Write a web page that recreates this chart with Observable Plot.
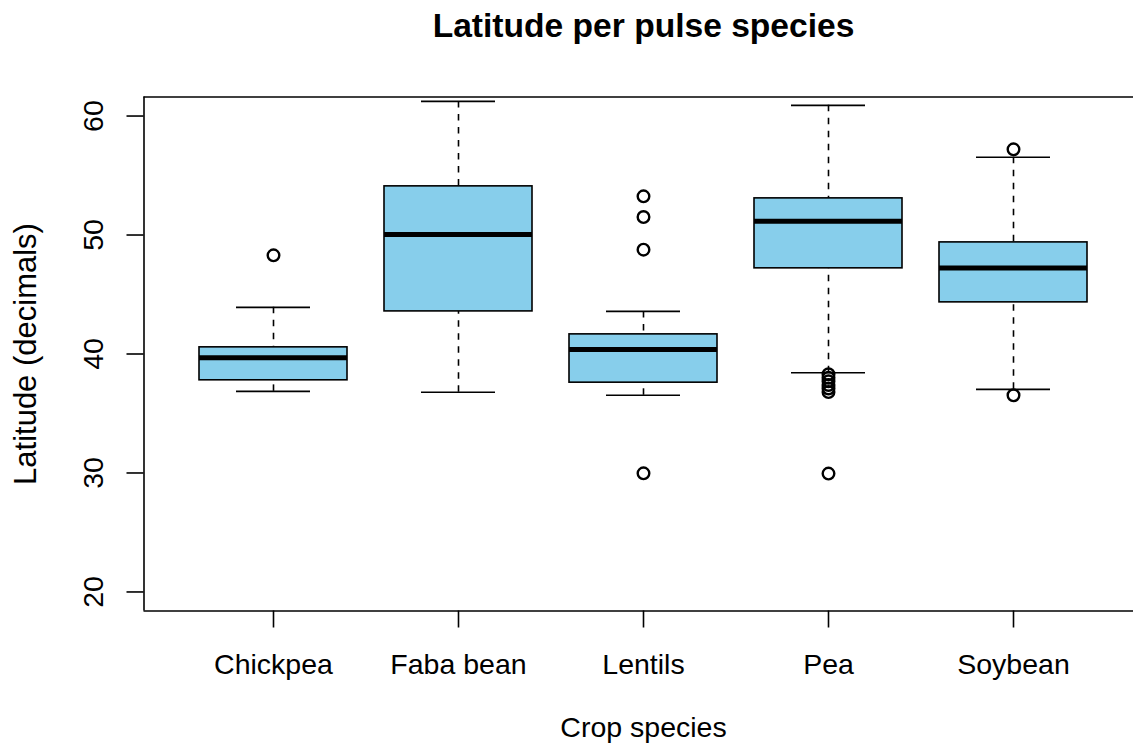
<!DOCTYPE html>
<html>
<head>
<meta charset="utf-8">
<script src="https://cdn.jsdelivr.net/npm/d3@7"></script>
<script src="https://cdn.jsdelivr.net/npm/@observablehq/plot@0.6"></script>
<style>
  html, body { margin: 0; padding: 0; background: #fff; overflow: hidden; }
  svg { display: block; }
</style>
</head>
<body>
<div id="chart"></div>
<script>
// ---- data ----
const categories = ["Chickpea", "Faba bean", "Lentils", "Pea", "Soybean"];
const lowerWhisker = [36.86, 36.78, 36.53, 38.43, 37.03];
const q1 = [37.79, 43.58, 37.59, 47.20, 44.34];
const median = [39.69, 50.05, 40.37, 51.15, 47.22];
const q3 = [40.56, 54.09, 41.65, 53.08, 49.38];
const upperWhisker = [43.92, 61.23, 43.58, 60.90, 56.53];
const outlierSpecies = ["Chickpea", "Lentils", "Lentils", "Lentils", "Lentils",
  "Pea", "Pea", "Pea", "Pea", "Pea", "Pea", "Pea", "Soybean", "Soybean"];
const outlierLatitude = [48.29, 53.25, 51.51, 48.77, 29.97,
  38.30, 38.00, 37.70, 37.40, 37.10, 36.80, 29.95, 57.20, 36.53];
const yTicks = [20, 30, 40, 50, 60];
const yLimits = [20, 60];

// ---- tables ----
const boxes = categories.map((c, i) => ({
  species: c, pos: i + 1,
  lo: lowerWhisker[i], q1: q1[i], med: median[i], q3: q3[i], hi: upperWhisker[i]
}));
const outliers = outlierSpecies.map((s, i) => ({
  pos: categories.indexOf(s) + 1, lat: outlierLatitude[i]
}));

// R-style axis extension (4%)
const ySpan = yLimits[1] - yLimits[0];
const yDomain = [yLimits[0] - 0.04 * ySpan, yLimits[1] + 0.04 * ySpan];
const n = categories.length;
const xSpan = n;
const xLo = 0.5 - 0.04 * xSpan;
const W = 1133, H = 751;
const mLeft = 143.5, mTop = 96.5, mBottom = 140.5;
const unitPx = 185; // pixels per category step
const xHi = xLo + (W - mLeft) / unitPx; // right side of the box lies outside the image
const xCenter = (xLo + (0.5 + n + 0.04 * xSpan)) / 2;

const half = 0.4, capHalf = 0.2;
const font = "'Liberation Sans', Arial, Helvetica, sans-serif";
const fs = 28.5;

const chart = Plot.plot({
  width: W,
  height: H,
  marginLeft: mLeft,
  marginRight: 0,
  marginTop: mTop,
  marginBottom: mBottom,
  style: { fontFamily: font, fontSize: fs + "px", background: "white", color: "black" },
  x: { type: "linear", domain: [xLo, xHi], axis: null, label: null },
  y: { type: "linear", domain: yDomain, axis: null, label: null },
  marks: [
    // whiskers (dashed)
    Plot.ruleX(boxes, { x: "pos", y1: "hi", y2: "q3", stroke: "black", strokeWidth: 1.6, strokeDasharray: "6.5,6.5" }),
    Plot.ruleX(boxes, { x: "pos", y1: "lo", y2: "q1", stroke: "black", strokeWidth: 1.6, strokeDasharray: "6.5,6.5" }),
    // whisker caps
    Plot.ruleY(boxes, { y: "hi", x1: d => d.pos - capHalf, x2: d => d.pos + capHalf, stroke: "black", strokeWidth: 1.6 }),
    Plot.ruleY(boxes, { y: "lo", x1: d => d.pos - capHalf, x2: d => d.pos + capHalf, stroke: "black", strokeWidth: 1.6 }),
    // boxes
    Plot.rect(boxes, { x1: d => d.pos - half, x2: d => d.pos + half, y1: "q1", y2: "q3", fill: "#87CEEB", stroke: "black", strokeWidth: 1.6 }),
    // medians
    Plot.ruleY(boxes, { y: "med", x1: d => d.pos - half, x2: d => d.pos + half, stroke: "black", strokeWidth: 5 }),
    // outliers
    Plot.dot(outliers, { x: "pos", y: "lat", r: 5.8, stroke: "black", strokeWidth: 2.4, fill: "none" }),
    // frame (left, top, bottom)
    Plot.ruleY(yDomain, { stroke: "black", strokeWidth: 1.6 }),
    Plot.ruleX([xLo], { stroke: "black", strokeWidth: 1.6 }),
    // axis ticks
    Plot.axisY({ ticks: yTicks, anchor: "left", label: null, tickSize: 17, tickFormat: () => "", stroke: "black", strokeWidth: 1.6 }),
    Plot.axisX({ ticks: boxes.map(d => d.pos), anchor: "bottom", label: null, tickSize: 17, tickFormat: () => "", stroke: "black", strokeWidth: 1.6 }),
    // y tick labels (rotated, R style)
    Plot.text(yTicks, { x: xLo, y: d => d, text: d => String(d), rotate: -90, dx: -41.5, lineAnchor: "bottom", textAnchor: "middle", fontSize: fs, fill: "black" }),
    // x tick labels
    Plot.text(boxes, { x: "pos", y: yDomain[0], text: "species", dy: 62.5, lineAnchor: "bottom", textAnchor: "middle", fontSize: fs, fill: "black" }),
    // axis titles
    Plot.text(["Crop species"], { x: xCenter, y: yDomain[0], text: d => d, dy: 126, lineAnchor: "bottom", textAnchor: "middle", fontSize: fs, fill: "black" }),
    Plot.text(["Latitude (decimals)"], { x: xLo, y: (yDomain[0] + yDomain[1]) / 2, text: d => d, rotate: -90, dx: -108.5, lineAnchor: "bottom", textAnchor: "middle", fontSize: 31, fill: "black" }),
    // title
    Plot.text(["Latitude per pulse species"], { x: xCenter, y: yDomain[1], text: d => d, dy: -60.5, lineAnchor: "bottom", textAnchor: "middle", fontSize: 33.6, fontWeight: "bold", fill: "black" })
  ]
});
document.getElementById("chart").appendChild(chart);
</script>
</body>
</html>
